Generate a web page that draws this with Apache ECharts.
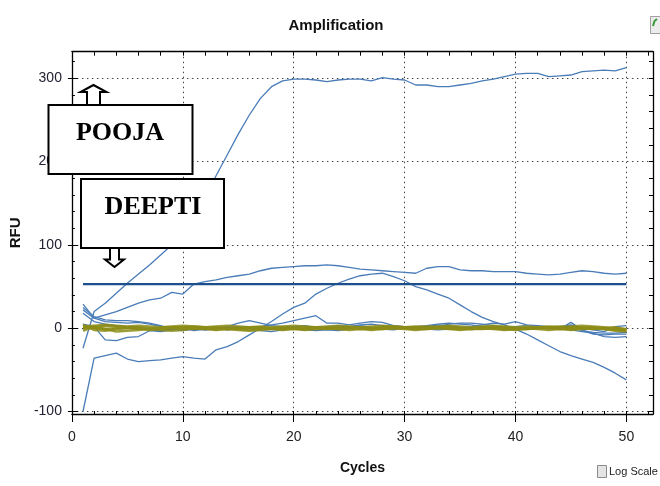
<!DOCTYPE html>
<html><head><meta charset="utf-8">
<script src="https://cdn.jsdelivr.net/npm/echarts@6/dist/echarts.min.js"></script>
<style>html,body{margin:0;padding:0;background:#fff}#c{width:660px;height:486px}</style>
</head><body><div id="c"></div>
<script>
const cycles = [1,2,3,4,5,6,7,8,9,10,11,12,13,14,15,16,17,18,19,20,21,22,23,24,25,26,27,28,29,30,31,32,33,34,35,36,37,38,39,40,41,42,43,44,45,46,47,48,49,50];
const xTicks = [0,10,20,30,40,50];
const xMinor = [0,2,4,6,8,10,12,14,16,18,20,22,24,26,28,30,32,34,36,38,40,42,44,46,48,50,52];
const yTicks = [-100,0,100,200,300];
const yMinor = [-100,-80,-60,-40,-20,0,20,40,60,80,100,120,140,160,180,200,220,240,260,280,300,320];
const threshold = 53;

const sigmoid = [-24,20,30,42,54,65,76,88,100,114,133,158,183,208,233,256,276,290,297,299,299,298,296,298,299,299,297,301,299,298,292,292,290,290,292,294,297,299,302,305,306,306,302,303,304,308,309,310,309,313];
const hump = [-100,-36,-33,-30,-37,-40,-39,-38,-36,-34,-36,-37,-26,-22,-16,-8,0,8,17,25,30,41,48,54,59,63,65,66,62,57,50,46,41,36,28,20,13,8,4,-1,-7,-14,-21,-28,-33,-37,-41,-47,-54,-62];
const plateau = [22,12,16,20,25,30,34,36,43,41,53,56,58,61,63,65,69,72,73,74,75,75,76,75,73,71,70,69,68,67,66,72,74,74,70,69,69,68,68,68,66,65,64,65,67,69,68,66,65,66];
const blue1 = [29,12,8,7,6,7,5,2,0,-1,1,0,-2,0,1,0,2,4,6,9,12,15,6,6,4,6,8,7,3,2,1,2,4,3,1,2,4,6,5,8,4,3,2,1,-2,-4,-6,-10,-11,-10];
const blue2 = [25,14,10,9,9,8,6,3,-1,-3,-1,-2,0,2,6,9,6,3,2,1,-1,0,1,3,2,4,5,3,1,2,0,-1,2,5,6,6,5,3,1,2,3,0,2,-1,3,-3,-5,-6,-6,-5];
const blue3 = [5,2,-14,-15,-11,-10,-3,-4,-2,0,-3,-1,1,-2,-1,0,-3,-4,-2,-1,-2,-3,-2,-3,-1,1,0,-1,-2,0,1,-1,-2,-1,1,0,-1,0,1,0,-1,0,1,2,4,0,-2,-4,2,3];
const blue4 = [18,8,5,3,2,1,-2,-3,-1,1,0,-2,-1,1,2,1,0,-1,1,2,3,1,-1,0,2,3,1,0,-1,1,2,3,5,6,5,4,2,0,-2,-1,0,1,0,-1,7,-2,-7,-8,-7,-7];
const olive1 = [4,-2,-3,-1,0,1,-1,0,1,0,-1,0,1,0,-1,-2,-1,0,1,0,-1,0,1,1,0,-1,0,1,2,1,0,-1,0,1,0,-1,-1,0,1,0,-1,0,1,0,-1,0,1,0,-2,-3];
const olive2 = [0,1,3,2,1,-1,-2,-1,0,1,2,1,0,-1,0,1,0,-1,-2,-1,0,1,0,-1,0,1,0,-1,0,0,1,2,1,0,-1,0,1,0,-1,-2,-1,0,1,2,1,0,-1,0,1,-2];
const olive3 = [-3,2,-1,-4,-3,-2,0,-2,-3,-2,0,-1,-2,-1,-2,-3,-2,-1,0,-1,-2,-1,0,-1,-2,-1,-2,-1,0,-1,-2,-1,0,-1,-2,-1,0,-1,-2,-1,0,-1,-2,-1,-2,-1,0,-1,-3,-4];
const olive4 = [2,3,4,3,2,3,2,1,2,3,2,1,2,3,2,1,2,1,2,3,2,1,2,3,2,1,2,3,2,1,2,1,2,3,2,1,2,3,2,1,2,1,2,1,2,3,2,1,0,-1];
const olive5 = [1,0,-1,0,1,0,-1,0,1,0,1,0,-1,-1,0,1,1,0,-1,0,1,0,-1,0,1,0,-1,0,1,0,-1,0,1,1,0,-1,0,1,0,-1,0,1,0,-1,0,1,0,-1,-1,-2];

const SANS = "'Liberation Sans Narrow','Arial Narrow','Liberation Sans',Arial,sans-serif";
const X_MIN = 0, X_MAX = 52.4, Y_MIN = -103, Y_MAX = 332;

function pairs(vals){ return vals.map((v,i)=>[cycles[i], v]); }
function line(vals, color, width, z){
  return {type:'line', data:pairs(vals), showSymbol:false, symbol:'none', xAxisIndex:0, yAxisIndex:0,
    lineStyle:{color:color, width:width}, z:z, silent:true};
}
const BLUE = '#4a7cb8';
const OLIVE = 'rgba(140,140,22,0.85)';

const series = [
  line(blue1, BLUE, 1.3, 2), line(blue2, BLUE, 1.3, 2), line(blue3, BLUE, 1.3, 2), line(blue4, BLUE, 1.3, 2),
  line(hump, BLUE, 1.3, 2), line(plateau, BLUE, 1.3, 2), line(sigmoid, BLUE, 1.3, 2),
  line(olive1, OLIVE, 2.6, 3), line(olive2, OLIVE, 2.6, 3), line(olive3, OLIVE, 2.6, 3), line(olive4, OLIVE, 2.6, 3), line(olive5, OLIVE, 2.6, 3),
  {type:'line', data:[[cycles[0], threshold],[cycles[cycles.length-1], threshold]], showSymbol:false, symbol:'none',
   lineStyle:{color:'#1d4f8c', width:2.2}, z:4, silent:true}
];

const axLine = {show:true, onZero:false, lineStyle:{color:'#000', width:1.3}};
const dotted = {show:true, lineStyle:{color:'#444', width:1, type:[1.5,3.5]}};

const option = {
  animation:false,
  backgroundColor:'#fff',
  grid:{left:70.7, right:7, top:51.7, bottom:72, containLabel:false},
  xAxis:[
    {type:'value', position:'bottom', min:X_MIN, max:X_MAX, axisLine:axLine,
     axisTick:{show:true, customValues:xTicks, length:8, lineStyle:{color:'#000'}},
     axisLabel:{customValues:xTicks, margin:16, color:'#222', fontSize:14, fontFamily:SANS},
     splitLine:dotted,
     name:'Cycles', nameLocation:'middle', nameGap:47,
     nameTextStyle:{fontSize:14, fontWeight:'bold', color:'#111', fontFamily:SANS}},
    {type:'value', position:'bottom', min:X_MIN, max:X_MAX, axisLine:{show:false, onZero:false},
     axisTick:{show:true, inside:true, customValues:xMinor, length:3, lineStyle:{color:'#000'}},
     axisLabel:{show:false}, splitLine:{show:false}},
    {type:'value', position:'top', min:X_MIN, max:X_MAX, axisLine:axLine,
     axisTick:{show:true, inside:true, customValues:xMinor, length:4, lineStyle:{color:'#000'}},
     axisLabel:{show:false}, splitLine:{show:false}}
  ],
  yAxis:[
    {type:'value', position:'left', min:Y_MIN, max:Y_MAX, axisLine:axLine,
     axisTick:{show:true, customValues:yTicks, length:4, lineStyle:{color:'#000'}},
     axisLabel:{customValues:yTicks, margin:10, color:'#223', fontSize:14, fontFamily:SANS},
     splitLine:dotted,
     name:'RFU', nameLocation:'middle', nameGap:43, nameRotate:90,
     nameTextStyle:{fontSize:15, fontWeight:'bold', color:'#111', fontFamily:"'Liberation Sans',Arial,sans-serif"}},
    {type:'value', position:'left', min:Y_MIN, max:Y_MAX, axisLine:{show:false, onZero:false},
     axisTick:{show:true, inside:true, customValues:yTicks, length:6, lineStyle:{color:'#000'}},
     axisLabel:{show:false}, splitLine:{show:false}},
    {type:'value', position:'left', min:Y_MIN, max:Y_MAX, axisLine:{show:false, onZero:false},
     axisTick:{show:true, inside:true, customValues:yMinor, length:3, lineStyle:{color:'#000'}},
     axisLabel:{show:false}, splitLine:{show:false}},
    {type:'value', position:'right', min:Y_MIN, max:Y_MAX, axisLine:axLine,
     axisTick:{show:true, inside:true, customValues:yMinor, length:4, lineStyle:{color:'#000'}},
     axisLabel:{show:false}, splitLine:{show:false}}
  ],
  series:series,
  graphic:[
    {type:'text', z:50, style:{text:'Amplification', x:336, y:18, textAlign:'center', fill:'#111',
      font:"bold 15px "+SANS}},
    {type:'rect', z:100, shape:{x:48.5, y:105, width:144, height:69}, style:{fill:'#fff', stroke:'#000', lineWidth:2}},
    {type:'text', z:101, style:{text:'POOJA', x:120, y:133, textAlign:'center', textVerticalAlign:'middle', fill:'#000',
      font:"bold 26px 'Liberation Serif','Times New Roman',serif"}},
    {type:'polygon', z:101, shape:{points:[[87,105],[87,92],[80.5,92],[93.5,85],[106.5,92],[100,92],[100,105]]},
      style:{fill:'#fff', stroke:'#000', lineWidth:2}},
    {type:'rect', z:100, shape:{x:81, y:179, width:143, height:69}, style:{fill:'#fff', stroke:'#000', lineWidth:2}},
    {type:'text', z:101, style:{text:'DEEPTI', x:153, y:207, textAlign:'center', textVerticalAlign:'middle', fill:'#000',
      font:"bold 26px 'Liberation Serif','Times New Roman',serif"}},
    {type:'polygon', z:101, shape:{points:[[110,248],[110,259.5],[105,259.5],[114.5,267],[124,259.5],[119,259.5],[119,248]]},
      style:{fill:'#fff', stroke:'#000', lineWidth:2}},
    {type:'rect', z:50, shape:{x:597.5, y:465.5, width:9, height:12}, style:{fill:'#e4e4e4', stroke:'#8a8a8a', lineWidth:1}},
    {type:'text', z:50, style:{text:'Log Scale', x:609, y:472, textVerticalAlign:'middle', fill:'#222', font:"11px "+SANS}},
    {type:'rect', z:50, shape:{x:650.5, y:16.5, width:14, height:17}, style:{fill:'#ececec', stroke:'#a0a0a0', lineWidth:1}},
    {type:'polyline', z:51, shape:{points:[[653,26],[654.5,21],[657,19]]}, style:{stroke:'#3a9a3a', lineWidth:2, fill:null}}
  ]
};
const chart = echarts.init(document.getElementById('c'));
chart.setOption(option);
</script>
</body></html>
